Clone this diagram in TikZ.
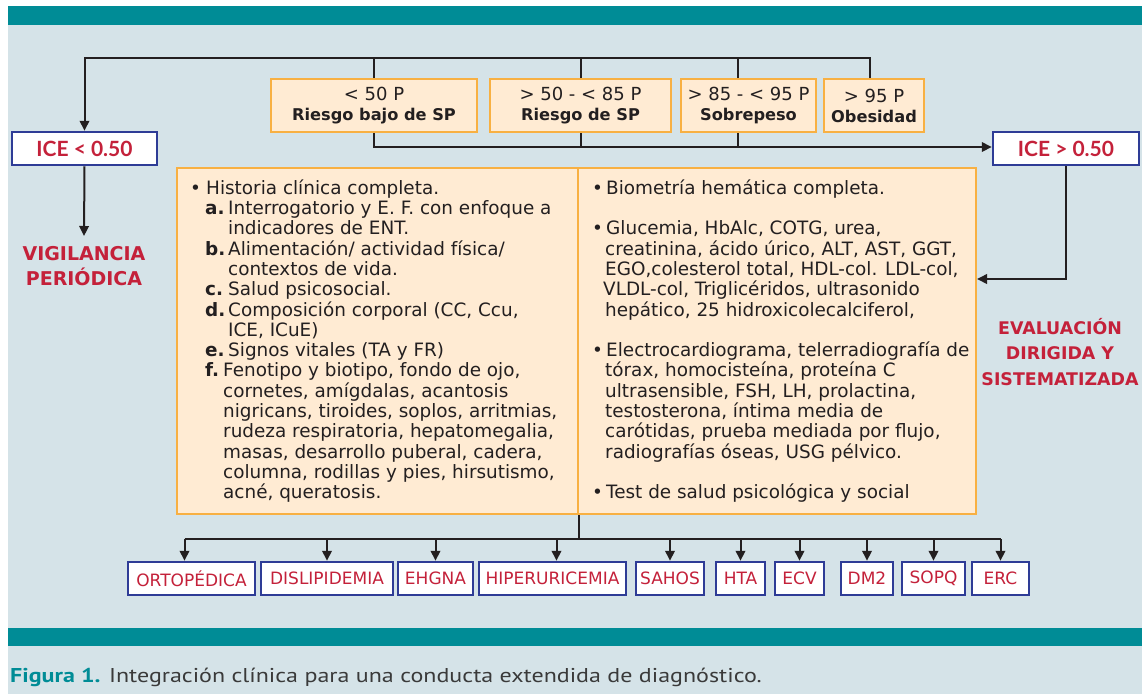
\documentclass[tikz,border=0pt]{standalone}
\usepackage{fontspec}
\setmainfont{DejaVu Sans}
\newfontfamily\icefont{Lato}
\newfontfamily\capfont[FakeStretch=1.2]{PT Sans}
\usetikzlibrary{arrows.meta,calc}
\definecolor{teal1}{HTML}{008C96}
\definecolor{panel}{HTML}{D5E3E8}
\definecolor{peach}{HTML}{FFEBD3}
\definecolor{orng}{HTML}{F8B042}
\definecolor{blu}{HTML}{2E3C96}
\definecolor{redc}{HTML}{C4213A}
\definecolor{ink}{HTML}{231F20}
\definecolor{capgray}{HTML}{3A3A3A}
\begin{document}
\begin{tikzpicture}[x=1pt,y=-1pt,
  conn/.style={draw=ink, line width=2pt},
  arr/.style={conn, -{Triangle[length=10pt,width=9.5pt]}},
  pbox/.style={draw=orng, fill=peach, line width=2pt, inner sep=0, align=center, text=ink, font=\fontsize{18}{20}\selectfont, minimum height=53},
  bigbox/.style={draw=orng, fill=peach, line width=2pt, inner sep=0, minimum height=346},
  icebox/.style={draw=blu, fill=white, line width=2.5pt, inner sep=0, text=redc, font=\icefont\fontsize{21}{24}\selectfont\bfseries, minimum height=33},
  dbox/.style={draw=blu, fill=white, line width=2.5pt, inner sep=0, text=redc, font=\fontsize{17}{20}\selectfont, minimum height=33},
  redlabel/.style={text=redc, align=center, inner sep=0},
  coltext/.style={anchor=west, align=left, inner sep=0, text=ink, font=\fontsize{18.4}{20.3}\selectfont}
]
\useasboundingbox (0,0) rectangle (1145,694);
\fill[white] (0,0) rectangle (1145,694);
\fill[panel] (8,25) rectangle (1142,694);
\fill[teal1] (8,6) rectangle (1142,25);
\fill[teal1] (8,628) rectangle (1142,646);

% percentile boxes
\node[pbox, minimum width=206] (b1) at (374,105.5) {< 50 P\\\fontsize{16.2}{20}\selectfont\textbf{Riesgo bajo de SP}};
\node[pbox, minimum width=181] (b2) at (580.5,105.5) {> 50 - < 85 P\\\fontsize{16.2}{20}\selectfont\textbf{Riesgo de SP}};
\node[pbox, minimum width=135] (b3) at (748.5,105.5) {> 85 - < 95 P\\\fontsize{16.2}{20}\selectfont\textbf{Sobrepeso}};
\node[pbox, minimum width=100] (b4) at (874,105.5) {> 95 P\\\fontsize{16.2}{20}\selectfont\textbf{Obesidad}};

% ICE boxes
\node[icebox, minimum width=145] (ice1) at (84.5,148.5) {ICE < 0.50};
\node[icebox, minimum width=146] (ice2) at (1066,148.5) {ICE > 0.50};

% big box
\node[bigbox, minimum width=401] (bigL) at (377.5,341) {};
\node[bigbox, minimum width=398] (bigR) at (777,341) {};

\node[coltext] (ltxt) at ([xshift=14pt]bigL.west) {%
\makebox[16pt][l]{\textbullet}Historia clínica completa.\\
\hspace*{15pt}\makebox[23pt][l]{\textbf{a.}}Interrogatorio y E. F. con enfoque a\\
\hspace*{38pt}indicadores de ENT.\\
\hspace*{15pt}\makebox[23pt][l]{\textbf{b.}}Alimentación/ actividad física/\\
\hspace*{38pt}contextos de vida.\\
\hspace*{15pt}\makebox[23pt][l]{\textbf{c.}}Salud psicosocial.\\
\hspace*{15pt}\makebox[23pt][l]{\textbf{d.}}Composición corporal (CC, Ccu,\\
\hspace*{38pt}ICE, ICuE)\\
\hspace*{15pt}\makebox[23pt][l]{\textbf{e.}}Signos vitales (TA y FR)\\
\hspace*{15pt}\makebox[18pt][l]{\textbf{f.}}Fenotipo y biotipo, fondo de ojo,\\
\hspace*{33pt}cornetes, amígdalas, acantosis\\
\hspace*{33pt}nigricans, tiroides, soplos, arritmias,\\
\hspace*{33pt}rudeza respiratoria, hepatomegalia,\\
\hspace*{33pt}masas, desarrollo puberal, cadera,\\
\hspace*{33pt}columna, rodillas y pies, hirsutismo,\\
\hspace*{33pt}acné, queratosis.};

\node[coltext] (rtxt) at ([xshift=15pt]bigR.west) {%
\makebox[14pt][l]{\textbullet}Biometría hemática completa.\\[20.3pt]
\makebox[14pt][l]{\textbullet}Glucemia, HbAlc, COTG, urea,\\
\hspace*{13pt}creatinina, ácido úrico, ALT, AST, GGT,\\
\hspace*{13pt}EGO,colesterol total, HDL-col. LDL-col,\\
\hspace*{11pt}VLDL-col, Triglicéridos, ultrasonido\\
\hspace*{13pt}hepático, 25 hidroxicolecalciferol,\\[20.3pt]
\makebox[14pt][l]{\textbullet}Electrocardiograma, telerradiografía de\\
\hspace*{13pt}tórax, homocisteína, proteína C\\
\hspace*{13pt}ultrasensible, FSH, LH, prolactina,\\
\hspace*{13pt}testosterona, íntima media de\\
\hspace*{13pt}carótidas, prueba mediada por flujo,\\
\hspace*{13pt}radiografías óseas, USG pélvico.\\[20.3pt]
\makebox[14pt][l]{\textbullet}Test de salud psicológica y social};

% red labels
\node[redlabel, font=\fontsize{19}{25}\selectfont\bfseries] (vig) at (84,266) {VIGILANCIA\\PERIÓDICA};
\node[redlabel, font=\fontsize{17.4}{25.3}\selectfont\bfseries] (eva) at (1060,352) {EVALUACIÓN\\DIRIGIDA Y\\SISTEMATIZADA};

% diagnosis boxes
\node[dbox, minimum width=127] (d1) at (191.5,578.5) {ORTOPÉDICA};
\node[dbox, minimum width=132] (d2) at (327,578.5) {DISLIPIDEMIA};
\node[dbox, minimum width=75] (d3) at (435.5,578.5) {EHGNA};
\node[dbox, minimum width=147] (d4) at (552.5,578.5) {HIPERURICEMIA};
\node[dbox, minimum width=68] (d5) at (670,578.5) {SAHOS};
\node[dbox, minimum width=49] (d6) at (740.5,578.5) {HTA};
\node[dbox, minimum width=49] (d7) at (799.5,578.5) {ECV};
\node[dbox, minimum width=52] (d8) at (867,578.5) {DM2};
\node[dbox, minimum width=63] (d9) at (933.5,578.5) {SOPQ};
\node[dbox, minimum width=57] (d10) at (1000.5,578.5) {ERC};

% top connectors
\draw[arr] (b4.north) ++(-4pt,0) -- ++(0,-20) -| (ice1.north);
\draw[conn] (b1.north) -- ++(0,-20);
\draw[conn] (b2.north) -- ++(0,-20);
\draw[conn] ([xshift=-11pt]b3.north) -- ++(0,-20);
% bottom of percentile boxes
\coordinate (ej) at (ice2.west |- 0,147);
\draw[arr] (b1.south) |- (ej);
\draw[conn] (b2.south) -- ++(0,15);
\draw[conn] ([xshift=-11pt]b3.south) -- ++(0,15);
% ICE branches
\coordinate (vigtop) at (84,236);
\draw[arr] (ice1.south) -- (vigtop);
\coordinate (evin) at (bigR.east |- 0,279);
\draw[arr] (ice2.south) |- (evin);
% bottom distribution
\coordinate (hub) at (bigL.south east |- 0,539);
\draw[conn] (bigL.south east) -- (hub);
\coordinate (hl) at ([xshift=-7pt]d1.north |- hub);
\coordinate (hr) at (d10.north |- hub);
\draw[conn] (hl) -- (hr);
\draw[arr] (hl) -- ([xshift=-7pt]d1.north);
\draw[arr] (d2.north |- hub) -- (d2.north);
\draw[arr] (d3.north |- hub) -- (d3.north);
\draw[arr] ([xshift=4pt]d4.north |- hub) -- ([xshift=4pt]d4.north);
\draw[arr] (d5.north |- hub) -- (d5.north);
\draw[arr] (d6.north |- hub) -- (d6.north);
\draw[arr] (d7.north |- hub) -- (d7.north);
\draw[arr] (d8.north |- hub) -- (d8.north);
\draw[arr] (d9.north |- hub) -- (d9.north);
\draw[arr] (hr) -- (d10.north);

% caption
\node[anchor=base west, inner sep=0, text=capgray, font=\capfont\fontsize{20}{24}\selectfont] (cap) at (10,682) {\textcolor{teal1}{\bfseries Figura 1.} Integración clínica para una conducta extendida de diagnóstico.};
\end{tikzpicture}
\end{document}
